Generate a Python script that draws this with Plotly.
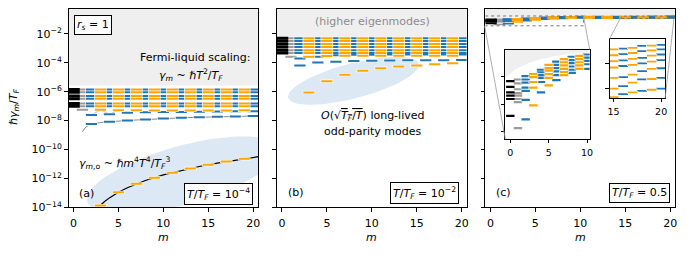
import math
import plotly.graph_objects as go

W, H = 691, 260

# ---------------- data (log10 of ħγ_m/T_F) ----------------
M_ALL = list(range(21))
EVEN_M = list(range(2, 21, 2))
ODD_M = list(range(3, 20, 2))
X_TICKS = [0, 5, 10, 15, 20]
Y_TICK_EXP = [-14, -12, -10, -8, -6, -4, -2]

# panel (a): T/T_F = 1e-4
A_BAND = [-5.84, -6.04, -6.29, -6.49, -6.81, -7.01]
A_GRAY_EXTRA = [-7.25]
A_WAVE_M = list(range(2, 21))
A_WAVE = [-7.62, -7.25, -7.56, -7.29, -7.46, -7.29, -7.43, -7.30, -7.41, -7.30,
          -7.40, -7.30, -7.38, -7.30, -7.37, -7.30, -7.36, -7.29, -7.35]
A_LOW = [-8.24, -8.08, -7.99, -7.92, -7.86, -7.81, -7.77, -7.74, -7.71, -7.69]
A_DASH_M = [1.0, 1.15, 1.3, 1.5, 1.75, 2.0, 2.5, 3, 4, 6, 8, 10, 12, 14, 16, 18, 20.6]
A_DASH = [-8.78, -8.62, -8.50, -8.40, -8.31, -8.25, -8.18, -8.14, -8.08, -7.99,
          -7.92, -7.86, -7.81, -7.77, -7.74, -7.71, -7.68]
A_ODD = [-13.88, -12.96, -12.38, -11.95, -11.61, -11.31, -11.06, -10.84, -10.65]
A_FIT_M = [2.75, 3, 3.5, 4, 5, 6, 7, 8, 10, 12, 14, 16, 18, 20.6]
A_FIT = [-14.0, -13.85, -13.58, -13.35, -12.96, -12.65, -12.38, -12.15, -11.76,
         -11.45, -11.18, -10.95, -10.75, -10.50]
A_SHADE = -5.58

# panel (b): T/T_F = 1e-2
B_BAND = [-2.30, -2.50, -2.70, -2.90, -3.13, -3.33]
B_GRAY_EXTRA = [-3.58]
B_ODD_EXTRA = [-3.58, -3.53, -3.52, -3.52, -3.51, -3.51, -3.51, -3.51, -3.51]
B_EVEN_EXTRA = [-3.70, -3.58, -3.47, -3.45, -3.44, -3.43, -3.43, -3.42, -3.42, -3.42]
B_EVEN_LOW = [-4.19, -3.98, -3.92, -3.88, -3.85, -3.84, -3.83, -3.82, -3.82, -3.81]
B_LONG = [-6.05, -5.27, -4.82, -4.55, -4.37, -4.26, -4.19, -4.10, -4.03]
B_SHADE = -2.22

# panel (c): T/T_F = 0.5, modes per m
C_LEVELS = [
    [-0.999, -1.043, -1.085, -1.110, -1.135, -1.263],
    [-0.987, -1.016, -1.061, -1.090, -1.110, -1.135, -1.159, -1.356],
    [-0.962, -0.987, -1.011, -1.048, -1.073, -1.142, -1.290],
    [-0.945, -0.969, -1.006, -1.048, -1.183],
    [-0.913, -0.932, -0.954, -0.974, -1.006, -1.085],
    [-0.876, -0.900, -0.920, -0.945, -0.974, -1.031],
    [-0.851, -0.876, -0.900, -0.925, -0.954, -0.991],
    [-0.832, -0.856, -0.880, -0.906, -0.930, -0.954],
    [-0.814, -0.839, -0.863, -0.888, -0.913, -0.937],
    [-0.807, -0.832, -0.856, -0.880, -0.906],
    [-0.797, -0.821, -0.846, -0.871, -0.906],
    [-0.795, -0.815, -0.840, -0.865, -0.895],
    [-0.795, -0.812, -0.835, -0.858, -0.885, -0.915],
    [-0.796, -0.812, -0.832, -0.852, -0.880, -0.910],
    [-0.797, -0.813, -0.830, -0.850, -0.877, -0.905, -0.925],
    [-0.798, -0.814, -0.830, -0.847, -0.875, -0.904, -0.927],
    [-0.796, -0.811, -0.828, -0.843, -0.873, -0.897, -0.919],
    [-0.794, -0.808, -0.824, -0.840, -0.866, -0.888, -0.914],
    [-0.789, -0.803, -0.821, -0.836, -0.857, -0.879, -0.910],
    [-0.788, -0.801, -0.815, -0.831, -0.851, -0.878, -0.907],
    [-0.786, -0.798, -0.812, -0.827, -0.849, -0.875, -0.904],
]
C_SHADE_M = [-0.7, 0.6, 2.3, 4.06, 5.8, 7.9, 10.1, 12, 15, 20.6]
C_SHADE = [-0.975, -0.913, -0.863, -0.832, -0.810, -0.792, -0.782, -0.775, -0.770, -0.765]

# ---------------- geometry / style ----------------
PANEL_X = [(67, 258), (277, 468), (487, 678)]
PANEL_Y = (9, 213)
XR = [-0.55, 20.55]
YR = [-14, -0.26]
IN1_PX = ((507, 592), (51, 143)); IN1_XR = [-0.65, 10.35]; IN1_YR = [-1.44, -0.76]
IN2_PX = ((612, 668), (40, 101)); IN2_XR = [14.58, 20.42]; IN2_YR = [-0.93, -0.77]
IN1_YTICKS = [-0.967, -1.174, -1.381]
IN2_YTICKS = [-0.837, -0.903]

BLUE, ORANGE, GRAY, BLACK = '#1f77b4', '#ffa500', '#9a9a9a', '#000000'
SHADE_GRAY = '#efefef'
ELL_COLOR = '#dce8f3'
FONT = 'DejaVu Sans'


def xp(px):
    return px / W


def yp(py):
    return 1 - py / H


def color_of(m):
    if m == 0:
        return BLACK
    if m == 1:
        return GRAY
    return BLUE if m % 2 == 0 else ORANGE


def p10(vals):
    return [10 ** v for v in vals]


fig = go.Figure()
AX = [('x', 'y'), ('x2', 'y2'), ('x3', 'y3'), ('x4', 'y4'), ('x5', 'y5')]


def add_marks(points, ax, size=8, width=2, black_width=3, black_size=9, halo=1.2):
    groups = {}
    for m, L in points:
        groups.setdefault(color_of(m), []).append((m, L))
    for col in [GRAY, BLUE, ORANGE, BLACK]:
        if col not in groups:
            continue
        pts = groups[col]
        w = black_width if col == BLACK else width
        s = black_size if col == BLACK else size
        xs = [p[0] for p in pts]
        ys = p10([p[1] for p in pts])
        if halo and col != BLACK:
            fig.add_trace(go.Scatter(
                x=xs, y=ys, mode='markers',
                marker=dict(symbol='line-ew', size=s + 1, color='white',
                            line=dict(color='rgba(255,255,255,0.9)', width=w + halo)),
                xaxis=ax[0], yaxis=ax[1], showlegend=False, hoverinfo='skip'))
        fig.add_trace(go.Scatter(
            x=xs, y=ys, mode='markers',
            marker=dict(symbol='line-ew', size=s, color=col, line=dict(color=col, width=w)),
            xaxis=ax[0], yaxis=ax[1], showlegend=False, hoverinfo='skip'))


def shade(ax, xs, Ls, top=0.5):
    x = list(xs) + [xs[-1], xs[0]]
    y = p10(list(Ls) + [top, top])
    fig.add_trace(go.Scatter(x=x, y=y, fill='toself', fillcolor=SHADE_GRAY, mode='lines',
                             line=dict(width=0), xaxis=ax[0], yaxis=ax[1],
                             showlegend=False, hoverinfo='skip'))


def ellipse(ax, panel, cx, cy, a, b, ang):
    x0, x1 = PANEL_X[panel]
    th = math.radians(ang)
    xs, ys = [], []
    for i in range(81):
        t = 2 * math.pi * i / 80
        dx = a * math.cos(t) * math.cos(th) - b * math.sin(t) * math.sin(th)
        dy = a * math.cos(t) * math.sin(th) + b * math.sin(t) * math.cos(th)
        px, py = cx + dx, cy - dy
        xs.append(XR[0] + (px - x0) / (x1 - x0) * (XR[1] - XR[0]))
        ys.append(10 ** (YR[0] + (PANEL_Y[1] - py) / (PANEL_Y[1] - PANEL_Y[0]) * (YR[1] - YR[0])))
    fig.add_trace(go.Scatter(x=xs, y=ys, fill='toself', fillcolor=ELL_COLOR, mode='lines',
                             line=dict(width=0), xaxis=ax[0], yaxis=ax[1],
                             showlegend=False, hoverinfo='skip'))


# ---------- panel (a) ----------
axa = AX[0]
shade(axa, [-1, 21.5], [A_SHADE, A_SHADE])
ellipse(axa, 0, 182, 180, 100, 30, 16)
fig.add_trace(go.Scatter(x=A_DASH_M, y=p10(A_DASH), mode='lines',
                         line=dict(color='#8a8a8a', width=1, dash='dashdot'),
                         xaxis=axa[0], yaxis=axa[1], showlegend=False, hoverinfo='skip'))
fig.add_trace(go.Scatter(x=A_WAVE_M, y=p10(A_WAVE), mode='lines',
                         line=dict(color='#a9c4dc', width=1),
                         xaxis=axa[0], yaxis=axa[1], showlegend=False, hoverinfo='skip'))
fig.add_trace(go.Scatter(x=A_FIT_M, y=p10(A_FIT), mode='lines',
                         line=dict(color='black', width=1.2),
                         xaxis=axa[0], yaxis=axa[1], showlegend=False, hoverinfo='skip'))
pts = [(m, L) for m in M_ALL for L in A_BAND]
pts += [(1, L) for L in A_GRAY_EXTRA]
pts += list(zip(A_WAVE_M, A_WAVE))
pts += list(zip(EVEN_M, A_LOW))
pts += list(zip(ODD_M, A_ODD))
add_marks(pts, axa)

# ---------- panel (b) ----------
axb = AX[1]
shade(axb, [-1, 21.5], [B_SHADE, B_SHADE])
ellipse(axb, 1, 354, 83, 68, 18, 15)
pts = [(m, L) for m in M_ALL for L in B_BAND]
pts += [(1, L) for L in B_GRAY_EXTRA]
pts += list(zip(ODD_M, B_ODD_EXTRA))
pts += list(zip(EVEN_M, B_EVEN_EXTRA))
pts += list(zip(EVEN_M, B_EVEN_LOW))
pts += list(zip(ODD_M, B_LONG))
add_marks(pts, axb)

# ---------- panel (c) ----------
axc = AX[2]
shade(axc, C_SHADE_M, C_SHADE)
pts_c = [(m, L) for m in M_ALL for L in C_LEVELS[m]]
add_marks(pts_c, axc, size=8, width=1.5, black_width=2, black_size=9, halo=0)
for xr, yr in [(IN1_XR, IN1_YR), (IN2_XR, IN2_YR)]:
    fig.add_trace(go.Scatter(x=[xr[0], xr[1], xr[1], xr[0], xr[0]],
                             y=p10([yr[0], yr[0], yr[1], yr[1], yr[0]]), mode='lines',
                             line=dict(color='#777777', width=1, dash='dot'),
                             xaxis=axc[0], yaxis=axc[1], showlegend=False, hoverinfo='skip'))

# insets
ax4 = AX[3]
shade(ax4, C_SHADE_M, C_SHADE, top=0)
add_marks(pts_c, ax4, size=6, width=2.2, black_width=2.2, black_size=6, halo=0.8)
ax5 = AX[4]
add_marks(pts_c, ax5, size=7, width=1.8, black_width=1.8, black_size=7, halo=0.8)

# ---------------- axes ----------------
def xaxis_cfg(dom, rng, anchor, ticks=X_TICKS, fs=11):
    return dict(domain=[xp(dom[0]), xp(dom[1])], range=rng, anchor=anchor,
                showline=True, mirror=True, linecolor='black', linewidth=1,
                ticks='outside', ticklen=3.5, tickwidth=1, tickcolor='black',
                tickvals=ticks, tickfont=dict(size=fs, family=FONT, color='black'),
                ticklabelstandoff=2,
                showgrid=False, zeroline=False, fixedrange=True)


def yaxis_cfg(dom, rng, anchor, tickexp, labels=False):
    d = dict(domain=[yp(dom[1]), yp(dom[0])], type='log', range=rng, anchor=anchor,
             showline=True, mirror=True, linecolor='black', linewidth=1,
             ticks='outside', ticklen=3.5, tickwidth=1, tickcolor='black',
             tickvals=p10(tickexp), showticklabels=labels,
             tickfont=dict(size=11, family=FONT, color='black'),
             showgrid=False, zeroline=False, fixedrange=True)
    if labels:
        d['ticktext'] = ['10<sup>\u2212%d</sup>' % (-e) for e in tickexp]
    return d


layout = dict(width=W, height=H, autosize=False, margin=dict(l=0, r=0, t=0, b=0),
              paper_bgcolor='white', plot_bgcolor='white',
              font=dict(family=FONT, size=11, color='black'), showlegend=False)
layout['xaxis'] = xaxis_cfg(PANEL_X[0], XR, 'y')
layout['yaxis'] = yaxis_cfg(PANEL_Y, YR, 'x', Y_TICK_EXP, labels=True)
layout['xaxis2'] = xaxis_cfg(PANEL_X[1], XR, 'y2')
layout['yaxis2'] = yaxis_cfg(PANEL_Y, YR, 'x2', Y_TICK_EXP)
layout['xaxis3'] = xaxis_cfg(PANEL_X[2], XR, 'y3')
layout['yaxis3'] = yaxis_cfg(PANEL_Y, YR, 'x3', Y_TICK_EXP)
layout['xaxis4'] = xaxis_cfg(IN1_PX[0], IN1_XR, 'y4', ticks=[0, 5, 10], fs=9.5)
layout['yaxis4'] = yaxis_cfg(IN1_PX[1], IN1_YR, 'x4', IN1_YTICKS)
layout['xaxis5'] = xaxis_cfg(IN2_PX[0], IN2_XR, 'y5', ticks=[15, 20], fs=9.5)
layout['yaxis5'] = yaxis_cfg(IN2_PX[1], IN2_YR, 'x5', IN2_YTICKS)
for k in ['xaxis4', 'xaxis5']:
    layout[k]['ticklen'] = 3
    layout[k]['ticklabelstandoff'] = 1
fig.update_layout(**layout)


# ---------------- connectors ----------------
def main_c_px(m, L):
    x0, x1 = PANEL_X[2]
    px = x0 + (m - XR[0]) / (XR[1] - XR[0]) * (x1 - x0)
    py = PANEL_Y[1] - (L - YR[0]) / (YR[1] - YR[0]) * (PANEL_Y[1] - PANEL_Y[0])
    return px, py


conns = [
    (main_c_px(IN1_XR[0], IN1_YR[0]), (IN1_PX[0][0], IN1_PX[1][1])),
    (main_c_px(IN1_XR[1], IN1_YR[1]), (IN1_PX[0][1], IN1_PX[1][0])),
    (main_c_px(IN2_XR[0], IN2_YR[1]), (IN2_PX[0][0], IN2_PX[1][0])),
    (main_c_px(IN2_XR[1], IN2_YR[0]), (IN2_PX[0][1], IN2_PX[1][1])),
]
for (a, b) in conns:
    fig.add_shape(type='line', xref='paper', yref='paper',
                  x0=xp(a[0]), y0=yp(a[1]), x1=xp(b[0]), y1=yp(b[1]),
                  line=dict(color='#999999', width=0.8))

# ---------------- text ----------------
def note(px, py, text, size=11, box=False, color='black', angle=0):
    kw = dict(x=xp(px), y=yp(py), xref='paper', yref='paper', text=text, showarrow=False,
              font=dict(size=size, family=FONT, color=color), xanchor='center',
              yanchor='middle', textangle=angle)
    if box:
        kw.update(bordercolor='black', borderwidth=1, borderpad=2, bgcolor='white')
    fig.add_annotation(**kw)


note(92, 26, '<i>r<sub>s</sub></i> = 1', box=True)
note(194, 59, 'Fermi-liquid scaling:')
note(190, 77, '<i>γ<sub>m</sub></i> ~ ℏ<i>T</i><sup>2</sup>/<i>T<sub>F</sub></i>')
note(124, 168, '<i>γ<sub>m</sub></i><sub>,o</sub> ~ ℏ<i>m</i><sup>4</sup><i>T</i><sup>4</sup>/<i>T<sub>F</sub></i><sup>3</sup>')
note(85, 199, '(a)')
note(218, 199, '<i>T</i>/<i>T<sub>F</sub></i> = 10<sup>\u22124</sup>', box=True)
note(373, 22, '(higher eigenmodes)', color='#8c8c8c')
note(373, 119, "<i>O</i>(√<span style='text-decoration:overline'><i>T<sub>F</sub></i>/<i>T</i></span>) long-lived")
note(373, 135, 'odd-parity modes')
note(296, 198, '(b)')
note(426, 198, '<i>T</i>/<i>T<sub>F</sub></i> = 10<sup>\u22122</sup>', box=True)
note(505, 198, '(c)')
note(642, 198, '<i>T</i>/<i>T<sub>F</sub></i> = 0.5', box=True)
for x0, x1 in PANEL_X:
    note((x0 + x1) / 2, 244, '<i>m</i>')
note(12, 110, 'ℏ<i>γ<sub>m</sub></i>/<i>T<sub>F</sub></i>', angle=-90)

fig.write_html('out.html', config={'displayModeBar': False, 'staticPlot': True},
               post_script="document.body.style.margin='0';document.body.style.overflow='hidden';")
